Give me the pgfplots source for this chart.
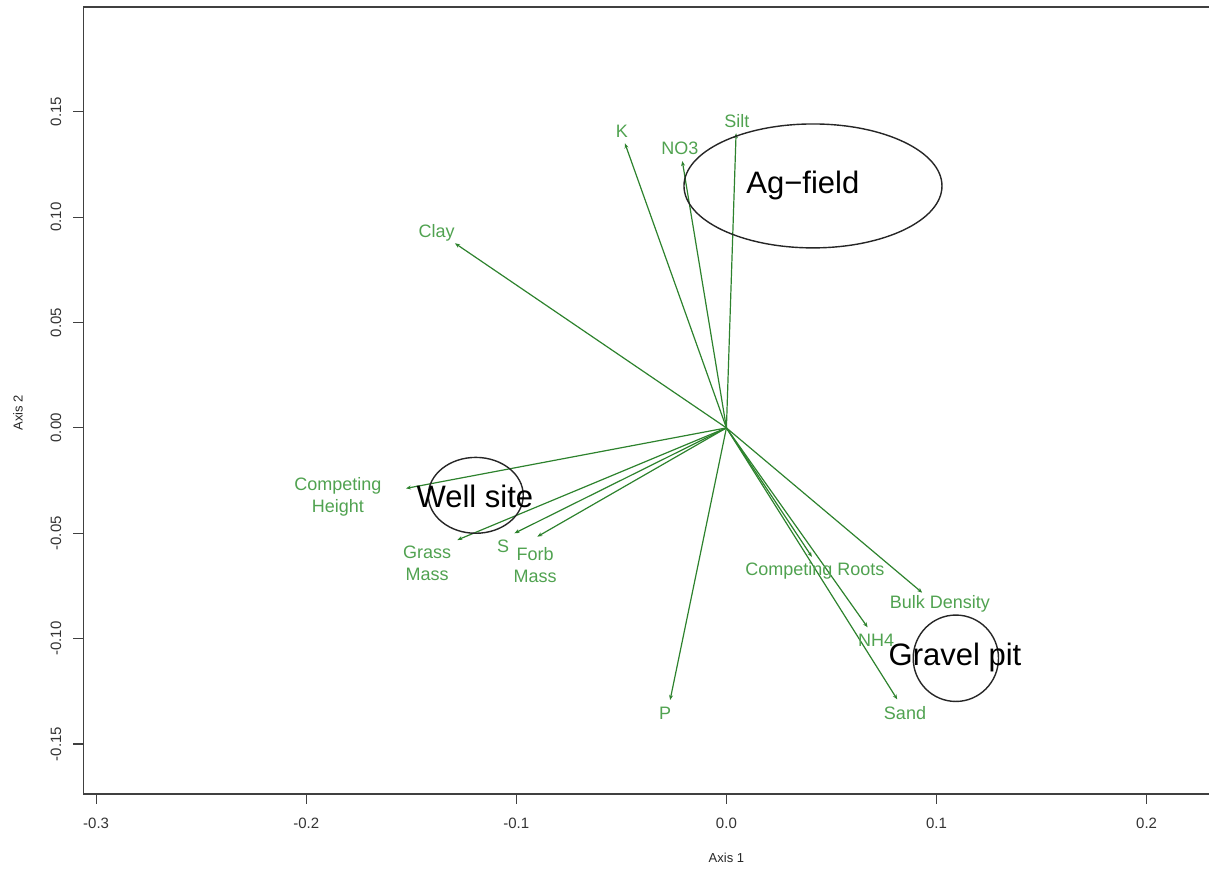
\documentclass[border=0pt]{standalone}
\usepackage{fontspec}
\setmainfont{Liberation Sans}
\usepackage{pgfplots}
\usepackage{pgfplotstable}
\pgfplotsset{compat=1.18}
\usetikzlibrary{arrows.meta}
\definecolor{linegreen}{RGB}{45,130,45}
\definecolor{textgreen}{RGB}{80,162,80}

% Arrow end points (Axis 1, Axis 2)
\pgfplotstableread{
name x y u v
K 0 0 -0.0483 0.1350
NO3 0 0 -0.0210 0.1266
Silt 0 0 0.0046 0.1398
Clay 0 0 -0.1292 0.0876
CompetingHeight 0 0 -0.1525 -0.0287
GrassMass 0 0 -0.1281 -0.0532
S 0 0 -0.1009 -0.0500
ForbMass 0 0 -0.0900 -0.0516
P 0 0 -0.0268 -0.1291
CompetingRoots 0 0 0.0407 -0.0612
BulkDensity 0 0 0.0932 -0.0782
NH4 0 0 0.0672 -0.0946
Sand 0 0 0.0813 -0.1288
}\arrowtable

\begin{document}
\begin{tikzpicture}
\useasboundingbox (0,0) rectangle (604.5pt,435.5pt);
\begin{axis}[
  at={(41.65pt,38.5pt)}, anchor=south west,
  scale only axis,
  width=562.85pt, height=393.5pt,
  xmin=-0.3061, xmax=0.2297,
  ymin=-0.1737, ymax=0.1997,
  axis x line*=box, axis y line*=left,
  axis line style={line width=0.8pt, black!75},
  tick align=outside,
  major tick length=5pt,
  tick style={line width=0.6pt, black!75},
  xtick={-0.3,-0.2,-0.1,0,0.1,0.2},
  ytick={-0.15,-0.10,-0.05,0,0.05,0.10,0.15},
  xtick pos=bottom, ytick pos=left,
  minor tick num=0,
  /pgf/number format/assume math mode=true,
  xticklabel style={font=\fontsize{7.5}{9}\selectfont, text=black!80,
    /pgf/number format/.cd, fixed, fixed zerofill, precision=1},
  yticklabel style={font=\fontsize{7.5}{9}\selectfont, text=black!80, rotate=90, anchor=south,
    /pgf/number format/.cd, fixed, fixed zerofill, precision=2},
  xticklabel shift=3.5pt,
  yticklabel shift=2.5pt,
  xlabel={Axis 1},
  ylabel={Axis 2},
  xlabel style={at={(axis cs:0,-0.2040)}, anchor=center, font=\fontsize{6.5}{8}\selectfont, text=black!85},
  ylabel style={at={(axis cs:-0.3372,0.0071)}, anchor=center, font=\fontsize{6.5}{8}\selectfont, text=black!85},
  clip=false,
]
\addplot[quiver={u=\thisrow{u}, v=\thisrow{v}},
  -{Stealth[length=2.5pt,width=2pt]}, draw=linegreen, line width=0.6pt]
  table[x=x, y=y] {\arrowtable};

% Group ellipses
\draw[black!85, line width=0.7pt] (axis cs:0.0412,0.1148) ellipse [x radius=0.0614, y radius=0.0294];
\draw[black!85, line width=0.7pt] (axis cs:-0.1193,-0.0320) ellipse [x radius=0.0226, y radius=0.0180];
\draw[black!85, line width=0.7pt] (axis cs:0.1092,-0.1093) ellipse [x radius=0.0203, y radius=0.0205];

% Variable labels
\begin{scope}[every node/.style={text=textgreen, font=\fontsize{9}{11}\selectfont, align=center, inner sep=0pt}]
\node at (axis cs:-0.0497,0.1408) {K};
\node at (axis cs:-0.0221,0.1328) {NO3};
\node at (axis cs:0.0050,0.1456) {Silt};
\node at (axis cs:-0.1379,0.0925) {Clay};
\node at (axis cs:-0.1849,-0.0328) {Competing\\Height};
\node at (axis cs:-0.1425,-0.0641) {Grass\\Mass};
\node at (axis cs:-0.1063,-0.0560) {S};
\node at (axis cs:-0.0911,-0.0650) {Forb\\Mass};
\node at (axis cs:-0.0292,-0.1352) {P};
\node at (axis cs:0.0421,-0.0679) {Competing Roots};
\node at (axis cs:0.1016,-0.0835) {Bulk Density};
\node at (axis cs:0.0712,-0.1006) {NH4};
\node at (axis cs:0.0850,-0.1352) {Sand};
\end{scope}

% Group labels
\begin{scope}[every node/.style={text=black, font=\fontsize{15.5}{18}\selectfont, inner sep=0pt}]
\node at (axis cs:0.0364,0.1148) {Ag−field};
\node at (axis cs:-0.1197,-0.0323) {Well site};
\node at (axis cs:0.1088,-0.1087) {Gravel pit};
\end{scope}
\end{axis}
\end{tikzpicture}
\end{document}
